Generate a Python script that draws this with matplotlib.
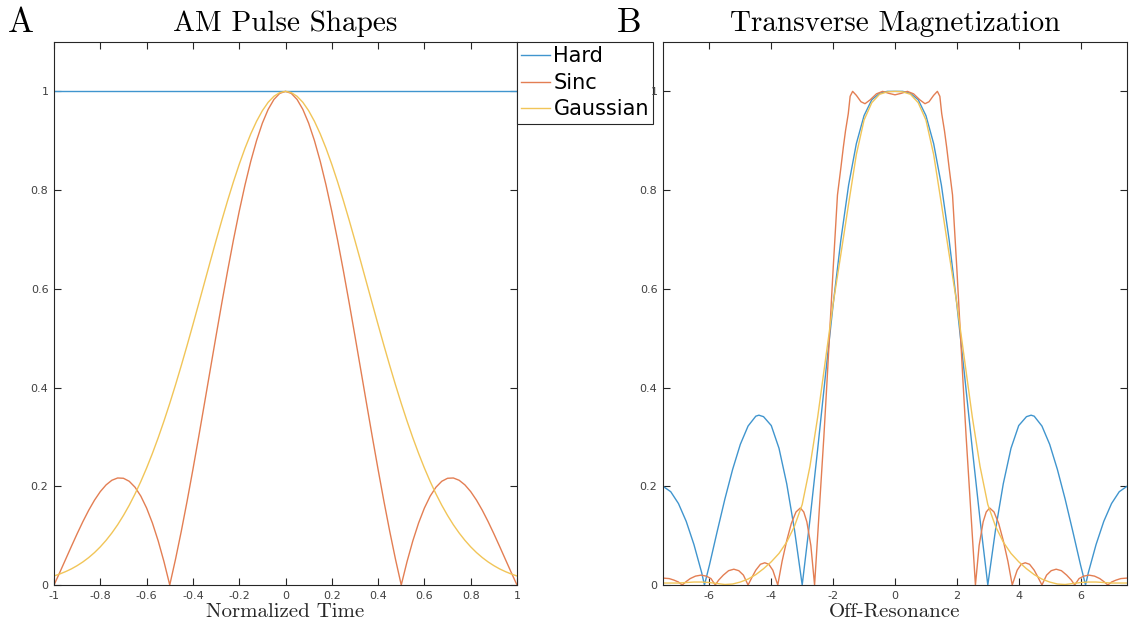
# Pulsos AM y su perfil de magnetización transversal (estilo MATLAB).
import matplotlib.pyplot as plt

# ---------------- datos panel A (forma del pulso) ----------------
t_norm = [-1.000, -0.975, -0.950, -0.925, -0.900, -0.875, -0.850, -0.825, -0.800, -0.775,
          -0.750, -0.725, -0.700, -0.675, -0.650, -0.625, -0.600, -0.575, -0.550, -0.525,
          -0.500, -0.475, -0.450, -0.425, -0.400, -0.375, -0.350, -0.325, -0.300, -0.275,
          -0.250, -0.225, -0.200, -0.175, -0.150, -0.125, -0.100, -0.075, -0.050, -0.025,
          0.000,
          0.025, 0.050, 0.075, 0.100, 0.125, 0.150, 0.175, 0.200, 0.225, 0.250,
          0.275, 0.300, 0.325, 0.350, 0.375, 0.400, 0.425, 0.450, 0.475, 0.500,
          0.525, 0.550, 0.575, 0.600, 0.625, 0.650, 0.675, 0.700, 0.725, 0.750,
          0.775, 0.800, 0.825, 0.850, 0.875, 0.900, 0.925, 0.950, 0.975, 1.000]
hard_t = [-1.0, 1.0]
hard_am = [1.0, 1.0]
sinc_am = [0.0000, 0.0255, 0.0518, 0.0781, 0.1039, 0.1286, 0.1515, 0.1719, 0.1892, 0.2028,
           0.2122, 0.2168, 0.2162, 0.2101, 0.1981, 0.1801, 0.1559, 0.1257, 0.0894, 0.0474,
           0.0000, 0.0524, 0.1093, 0.1700, 0.2339, 0.3001, 0.3679, 0.4363, 0.5046, 0.5716,
           0.6366, 0.6987, 0.7568, 0.8103, 0.8584, 0.9003, 0.9355, 0.9634, 0.9836, 0.9959,
           1.0000,
           0.9959, 0.9836, 0.9634, 0.9355, 0.9003, 0.8584, 0.8103, 0.7568, 0.6987, 0.6366,
           0.5716, 0.5046, 0.4363, 0.3679, 0.3001, 0.2339, 0.1700, 0.1093, 0.0524, 0.0000,
           0.0474, 0.0894, 0.1257, 0.1559, 0.1801, 0.1981, 0.2101, 0.2162, 0.2168, 0.2122,
           0.2028, 0.1892, 0.1719, 0.1515, 0.1286, 0.1039, 0.0781, 0.0518, 0.0255, 0.0000]
gauss_am = [0.0183, 0.0223, 0.0271, 0.0326, 0.0392, 0.0468, 0.0556, 0.0657, 0.0773, 0.0905,
            0.1054, 0.1221, 0.1409, 0.1616, 0.1845, 0.2096, 0.2369, 0.2665, 0.2982, 0.3321,
            0.3679, 0.4056, 0.4449, 0.4855, 0.5273, 0.5698, 0.6126, 0.6554, 0.6977, 0.7390,
            0.7788, 0.8167, 0.8521, 0.8847, 0.9139, 0.9394, 0.9608, 0.9778, 0.9900, 0.9975,
            1.0000,
            0.9975, 0.9900, 0.9778, 0.9608, 0.9394, 0.9139, 0.8847, 0.8521, 0.8167, 0.7788,
            0.7390, 0.6977, 0.6554, 0.6126, 0.5698, 0.5273, 0.4855, 0.4449, 0.4056, 0.3679,
            0.3321, 0.2982, 0.2665, 0.2369, 0.2096, 0.1845, 0.1616, 0.1409, 0.1221, 0.1054,
            0.0905, 0.0773, 0.0657, 0.0556, 0.0468, 0.0392, 0.0326, 0.0271, 0.0223, 0.0183]

# ---------------- datos panel B (|Mxy| vs fuera de resonancia) ----------------
hard_x = [-7.5, -7.25, -7.0, -6.75, -6.5, -6.25, -6.16, -6.0, -5.75, -5.5, -5.25,
          -5.0, -4.75, -4.5, -4.4, -4.25, -4.0, -3.75, -3.5, -3.25, -3.0, -2.75,
          -2.5, -2.25, -2.0, -1.75, -1.5, -1.25, -1.0, -0.75, -0.5, -0.25, 0.0,
          0.25, 0.5, 0.75, 1.0, 1.25, 1.5, 1.75, 2.0, 2.25, 2.5, 2.75, 3.0,
          3.25, 3.5, 3.75, 4.0, 4.25, 4.4, 4.5, 4.75, 5.0, 5.25, 5.5, 5.75,
          6.0, 6.16, 6.25, 6.5, 6.75, 7.0, 7.25, 7.5]
hard_mxy = [0.200, 0.189, 0.165, 0.129, 0.082, 0.025, 0.000, 0.040, 0.108, 0.174, 0.234,
            0.285, 0.322, 0.342, 0.344, 0.341, 0.323, 0.277, 0.205, 0.112, 0.000, 0.132,
            0.275, 0.424, 0.568, 0.699, 0.810, 0.894, 0.951, 0.983, 0.996, 1.000, 1.000,
            1.000, 0.996, 0.983, 0.951, 0.894, 0.810, 0.699, 0.568, 0.424, 0.275, 0.132, 0.000,
            0.112, 0.205, 0.277, 0.323, 0.341, 0.344, 0.342, 0.322, 0.285, 0.234, 0.174, 0.108,
            0.040, 0.000, 0.025, 0.082, 0.129, 0.165, 0.189, 0.200]

sinc_x = [-7.5, -7.3, -7.15, -7.0, -6.88, -6.75, -6.62, -6.45, -6.27, -6.1, -5.95,
          -5.81, -5.7, -5.55, -5.38, -5.21, -5.05, -4.9, -4.75, -4.62, -4.5, -4.35,
          -4.21, -4.08, -3.95, -3.79, -3.65, -3.5, -3.35, -3.2, -3.06, -2.95, -2.85,
          -2.72, -2.6, -2.5, -2.4, -2.3, -2.2, -2.1, -2.0, -1.86, -1.75, -1.67,
          -1.6, -1.51, -1.45, -1.37, -1.25, -1.1, -0.97, -0.8, -0.6, -0.4, -0.2,
          0.0,
          0.2, 0.4, 0.6, 0.8, 0.97, 1.1, 1.25, 1.37, 1.45, 1.51, 1.6,
          1.67, 1.75, 1.86, 2.0, 2.1, 2.2, 2.3, 2.4, 2.5, 2.6, 2.72,
          2.85, 2.95, 3.06, 3.2, 3.35, 3.5, 3.65, 3.79, 3.95, 4.08, 4.21,
          4.35, 4.5, 4.62, 4.75, 4.9, 5.05, 5.21, 5.38, 5.55, 5.7, 5.81,
          5.95, 6.1, 6.27, 6.45, 6.62, 6.75, 6.88, 7.0, 7.15, 7.3, 7.5]
sinc_mxy = [0.014, 0.013, 0.010, 0.006, 0.000, 0.007, 0.013, 0.018, 0.020, 0.018, 0.013,
            0.000, 0.010, 0.020, 0.029, 0.032, 0.029, 0.020, 0.000, 0.016, 0.030, 0.042,
            0.045, 0.042, 0.030, 0.000, 0.048, 0.090, 0.125, 0.148, 0.156, 0.148, 0.128,
            0.080, 0.000, 0.100, 0.200, 0.300, 0.410, 0.525, 0.640, 0.790, 0.845, 0.887,
            0.920, 0.955, 0.990, 1.000, 0.992, 0.979, 0.975, 0.983, 0.995, 1.000, 0.996,
            0.993,
            0.996, 1.000, 0.995, 0.983, 0.975, 0.979, 0.992, 1.000, 0.990, 0.955, 0.920,
            0.887, 0.845, 0.790, 0.640, 0.525, 0.410, 0.300, 0.200, 0.100, 0.000, 0.080,
            0.128, 0.148, 0.156, 0.148, 0.125, 0.090, 0.048, 0.000, 0.030, 0.042, 0.045,
            0.042, 0.030, 0.016, 0.000, 0.020, 0.029, 0.032, 0.029, 0.020, 0.010, 0.000,
            0.013, 0.018, 0.020, 0.018, 0.013, 0.007, 0.000, 0.006, 0.010, 0.013, 0.014]

gauss_x = [-7.5, -7.25, -7.0, -6.75, -6.5, -6.25, -6.0, -5.75, -5.5, -5.25, -5.0,
           -4.75, -4.5, -4.25, -4.0, -3.75, -3.5, -3.25, -3.0, -2.75, -2.5, -2.25,
           -2.0, -1.75, -1.5, -1.25, -1.0, -0.75, -0.5, -0.25, 0.0,
           0.25, 0.5, 0.75, 1.0, 1.25, 1.5, 1.75, 2.0, 2.25, 2.5, 2.75,
           3.0, 3.25, 3.5, 3.75, 4.0, 4.25, 4.5, 4.75, 5.0, 5.25, 5.5,
           5.75, 6.0, 6.25, 6.5, 6.75, 7.0, 7.25, 7.5]
gauss_mxy = [0.004, 0.004, 0.004, 0.005, 0.006, 0.006, 0.005, 0.003, 0.001, 0.002, 0.006,
             0.012, 0.021, 0.033, 0.047, 0.064, 0.087, 0.119, 0.163, 0.240, 0.340, 0.455,
             0.570, 0.670, 0.772, 0.872, 0.942, 0.977, 0.994, 0.999, 1.000,
             0.999, 0.994, 0.977, 0.942, 0.872, 0.772, 0.670, 0.570, 0.455, 0.340, 0.240,
             0.163, 0.119, 0.087, 0.064, 0.047, 0.033, 0.021, 0.012, 0.006, 0.002, 0.001,
             0.003, 0.005, 0.006, 0.006, 0.005, 0.004, 0.004, 0.004]

# etiquetas de los ejes (guion simple, como MATLAB)
ticks_t = [-1, -0.8, -0.6, -0.4, -0.2, 0, 0.2, 0.4, 0.6, 0.8, 1]
labels_t = ["-1", "-0.8", "-0.6", "-0.4", "-0.2", "0", "0.2", "0.4", "0.6", "0.8", "1"]
ticks_f = [-6, -4, -2, 0, 2, 4, 6]
labels_f = ["-6", "-4", "-2", "0", "2", "4", "6"]
ticks_m = [0, 0.2, 0.4, 0.6, 0.8, 1]
labels_m = ["0", "0.2", "0.4", "0.6", "0.8", "1"]

# colores de MATLAB, algo aclarados como en la imagen
c_hard = '#4095CE'
c_sinc = '#E37E53'
c_gauss = '#F1C558'
serif = 'cmr10'
lw = 1.0

fig = plt.figure(figsize=(11.41, 6.27), dpi=100)
ax1 = fig.add_axes([54 / 1141, 42 / 627, 463 / 1141, 543 / 627])
ax2 = fig.add_axes([663 / 1141, 42 / 627, 464 / 1141, 543 / 627])

ax1.plot(hard_t, hard_am, color=c_hard, lw=lw, label='Hard')
ax1.plot(t_norm, sinc_am, color=c_sinc, lw=lw, label='Sinc')
ax1.plot(t_norm, gauss_am, color=c_gauss, lw=lw, label='Gaussian')

ax2.plot(hard_x, hard_mxy, color=c_hard, lw=lw)
ax2.plot(sinc_x, sinc_mxy, color=c_sinc, lw=lw)
ax2.plot(gauss_x, gauss_mxy, color=c_gauss, lw=lw)

for ax in (ax1, ax2):
    ax.set_ylim(0, 1.1)
    ax.set_yticks(ticks_m)
    ax.set_yticklabels(labels_m)
    ax.tick_params(direction='in', top=True, right=True, length=5, width=0.8,
                   labelsize=8, colors='#262626', labelcolor='#404040', pad=4)
    for s in ax.spines.values():
        s.set_color('#262626')
        s.set_linewidth(0.8)

ax1.set_xlim(-1, 1)
ax1.set_xticks(ticks_t)
ax1.set_xticklabels(labels_t)
ax2.set_xlim(-7.5, 7.5)
ax2.set_xticks(ticks_f)
ax2.set_xticklabels(labels_f)

ax1.set_title("AM Pulse Shapes", fontfamily=serif, fontsize=21, pad=8)
ax2.set_title("Transverse Magnetization", fontfamily=serif, fontsize=21, pad=8)
ax1.set_xlabel("Normalized Time", fontfamily=serif, fontsize=15, labelpad=2, color='#262626')
ax2.set_xlabel("Off-Resonance", fontfamily=serif, fontsize=15, labelpad=2, color='#262626')

fig.text(8 / 1141, 1 - 32 / 627, "A", fontfamily=serif, fontsize=25, va='baseline')
fig.text(617 / 1141, 1 - 32 / 627, "B", fontfamily=serif, fontsize=25, va='baseline')

leg = ax1.legend(loc='upper left', bbox_to_anchor=(1.0, 1.0), borderaxespad=0,
                 fontsize=15, handlelength=1.4, handletextpad=0.15, labelspacing=0.32,
                 borderpad=0.2, fancybox=False, framealpha=1)
leg.get_frame().set_edgecolor('#262626')
leg.get_frame().set_linewidth(0.8)

fig.savefig("out.png", dpi=100)
